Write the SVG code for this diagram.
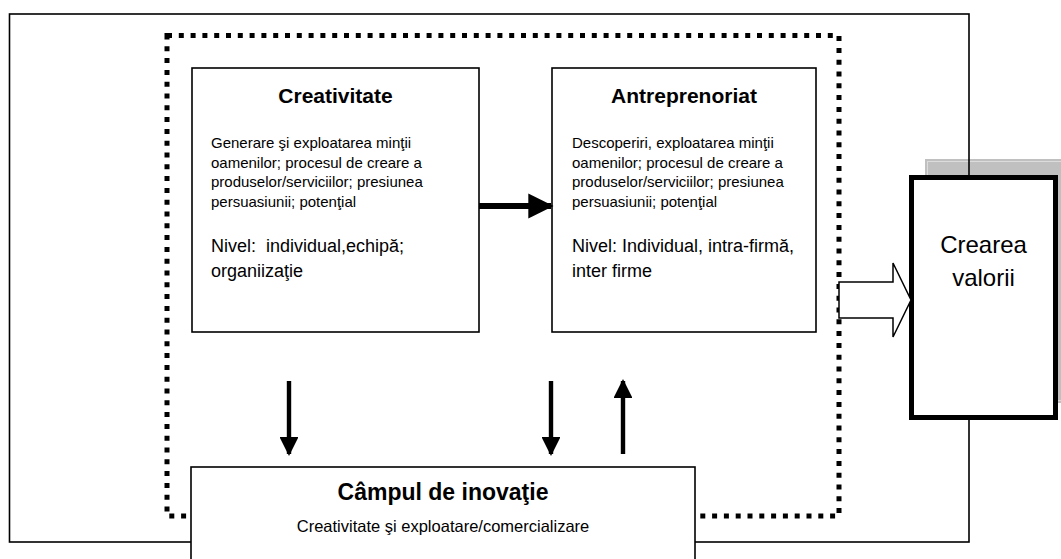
<svg xmlns="http://www.w3.org/2000/svg" width="1061" height="559" viewBox="0 0 1061 559">
<style>
.box{fill:#fff;stroke:#000;stroke-width:1.6}
.t{font-family:"Liberation Sans",Arial,sans-serif;fill:#000}
.title{font-weight:bold;font-size:21px;text-anchor:middle}
.body{font-size:15px}
.lvl{font-size:18px}
.conn{stroke:#000;fill:none}
</style>
<defs>
<marker id="ah" viewBox="0 0 10 10" refX="9" refY="5" markerWidth="4.2" markerHeight="4.2" markerUnits="strokeWidth" orient="auto">
<path d="M0,0 L10,5 L0,10 z" fill="#000"/>
</marker>
<marker id="ah2" viewBox="0 0 10 10" refX="9" refY="5" markerWidth="4.3" markerHeight="4.3" markerUnits="strokeWidth" orient="auto">
<path d="M0,0 L10,5 L0,10 z" fill="#000"/>
</marker>
</defs>
<rect x="0" y="0" width="1061" height="559" fill="#fff"/>
<g id="shadow">
<rect x="925" y="159" width="140" height="244" fill="#c0c0c0"/>
<rect x="927.5" y="161.5" width="140" height="239" fill="none" stroke="#dcdcdc" stroke-width="1"/>
</g>
<g id="frame">
<rect x="9.5" y="14" width="959.5" height="528" fill="none" stroke="#000" stroke-width="1.6"/>
<rect x="167" y="35.5" width="672" height="480.5" fill="none" stroke="#000" stroke-width="5" stroke-dasharray="5 6.8"/>
</g>
<g id="creativitate">
<rect class="box" x="192" y="68" width="287" height="264"/>
<text class="t title" x="335.5" y="103">Creativitate</text>
<text class="t body" x="211" y="148">Generare şi exploatarea minţii</text>
<text class="t body" x="211" y="167.5">oamenilor; procesul de creare a</text>
<text class="t body" x="211" y="187">produselor/serviciilor; presiunea</text>
<text class="t body" x="211" y="206.5">persuasiunii; potenţial</text>
<text class="t lvl" x="211" y="252" xml:space="preserve">Nivel:  individual,echipă;</text>
<text class="t lvl" x="211" y="277">organiizaţie</text>
</g>
<g id="antreprenoriat">
<rect class="box" x="552" y="68" width="264" height="264"/>
<text class="t title" x="684" y="103">Antreprenoriat</text>
<text class="t body" x="572" y="148">Descoperiri, exploatarea minţii</text>
<text class="t body" x="572" y="167.5">oamenilor; procesul de creare a</text>
<text class="t body" x="572" y="187">produselor/serviciilor; presiunea</text>
<text class="t body" x="572" y="206.5">persuasiunii; potenţial</text>
<text class="t lvl" x="572" y="252">Nivel: Individual, intra-firmă,</text>
<text class="t lvl" x="572" y="277">inter firme</text>
</g>
<g id="crearea-valorii">
<rect x="911.5" y="177.5" width="144" height="240" fill="#fff" stroke="#000" stroke-width="5"/>
<text class="t" x="983.5" y="253" font-size="24" text-anchor="middle">Crearea</text>
<text class="t" x="983.5" y="286" font-size="24" text-anchor="middle">valorii</text>
</g>
<g id="campul">
<rect class="box" x="191" y="467" width="504" height="110"/>
<text class="t" x="443" y="500" font-size="23" font-weight="bold" text-anchor="middle">Câmpul de inovaţie</text>
<text class="t" x="443" y="532" font-size="16.5" text-anchor="middle">Creativitate şi exploatare/comercializare</text>
</g>
<g id="connectors">
<line class="conn" x1="479" y1="206" x2="551" y2="206" stroke-width="6" marker-end="url(#ah)"/>
<line class="conn" x1="289" y1="381" x2="289" y2="454" stroke-width="4.4" marker-end="url(#ah2)"/>
<line class="conn" x1="551" y1="381" x2="551" y2="454" stroke-width="4.4" marker-end="url(#ah2)"/>
<line class="conn" x1="623" y1="454" x2="623" y2="381" stroke-width="4.4" marker-end="url(#ah2)"/>
<path d="M839,282 L893,282 L893,263 L911,300 L893,337 L893,318 L839,318 Z" fill="#fff" stroke="#000" stroke-width="1.5"/>
</g>
</svg>
